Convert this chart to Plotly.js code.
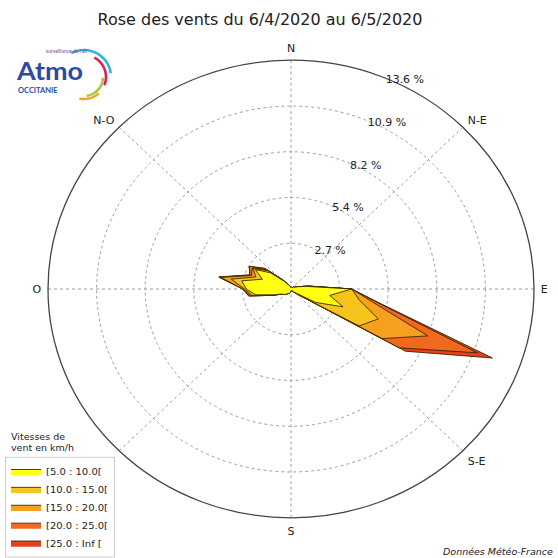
<!DOCTYPE html>
<html>
<head>
<meta charset="utf-8">
<script src="https://cdn.plot.ly/plotly-3.0.1.min.js"></script>
<style>
  html, body { margin: 0; padding: 0; overflow: hidden; background: #fff; }
  #chart { width: 558px; height: 593px; transform: scaleY(0.94118); transform-origin: 0 0; }
</style>
</head>
<body>
<div id="chart"></div>
<script>
// ---- data (percent of time, per direction sector of 10 degrees) ----
const directions = [0,10,20,30,40,50,60,70,80,90,100,110,120,130,140,150,160,170,
                    180,190,200,210,220,230,240,250,260,270,280,290,300,310,320,330,340,350];
const bin5_10   = [0.1,0.1,0.1,0.1,0.1,0.2,0.2,0.4,0.9,3.4,2.2,3.1,1.6,0.4,0.2,0.1,0.1,0.1,
                   0.1,0.2,0.3,0.3,0.4,0.5,0.6,1.0,2.0,2.5,2.8,1.7,2.3,1.5,0.6,0.3,0.2,0.1];
const bin10_15  = [0,0,0,0,0,0,0,0,0.1,0,1.7,2.1,2.8,0.1,0,0,0,0,
                   0,0,0,0,0,0,0,0.1,0.2,0.1,0.6,0.4,0.15,0.2,0.1,0,0,0];
const bin15_20  = [0,0,0,0,0,0,0,0,0,0,0.8,2.95,1.5,0,0,0,0,0,
                   0,0,0,0,0,0,0,0,0.1,0.1,0.6,0.25,0.05,0.1,0,0,0,0];
const bin20_25  = [0,0,0,0,0,0,0,0,0,0,0.35,2.95,1.1,0,0,0,0,0,
                   0,0,0,0,0,0,0,0,0.1,0,0.1,0.1,0.2,0.1,0,0,0,0];
const bin25_inf = [0,0,0,0,0,0,0,0,0,0,0.1,0.9,0.4,0,0,0,0,0,
                   0,0,0,0,0,0,0,0,0,0,0,0,0,0,0,0,0,0];
const binLabels = ['[5.0 : 10.0[', '[10.0 : 15.0[', '[15.0 : 20.0[', '[20.0 : 25.0[', '[25.0 : Inf ['];
const binColors = ['#ffff14', '#f6c41a', '#f5a01e', '#f06a1e', '#e6401c'];
const radialTicks = [2.72, 5.44, 8.16, 10.88, 13.6];
const radialTickText = ['2.7 %', '5.4 %', '8.2 %', '10.9 %', '13.6 %'];
const compassVals = [0,45,90,135,180,225,270,315];
const compassText = ['N','N-E','E','S-E','S','S-O','O','N-O'];
const rMax = 13.6;

// ---- geometry helpers (final pixels -> paper coords, page squeezed vertically) ----
const S = 224/238, W = 558, H = 593;
const PX = x => x / W;
const PY = y => 1 - (y / S) / H;

// cumulative layers
const bins = [bin5_10, bin10_15, bin15_20, bin20_25, bin25_inf];
const cum = [];
let acc = directions.map(() => 0);
bins.forEach(b => { acc = acc.map((v, i) => v + b[i]); cum.push(acc.slice()); });

const traces = [];
for (let k = bins.length - 1; k >= 0; k--) {
  traces.push({
    type: 'scatterpolar', mode: 'lines', fill: 'toself',
    r: cum[k].concat([cum[k][0]]),
    theta: directions.concat([directions[0]]),
    fillcolor: binColors[k],
    line: {color: '#3a2200', width: 0.9},
    name: binLabels[k], hoverinfo: 'skip'
  });
}

// logo arcs
function arc(cx, cy, r, a0, a1, color) {
  let d = '';
  const n = 24;
  for (let i = 0; i <= n; i++) {
    const a = (a0 + (a1 - a0) * i / n) * Math.PI / 180;
    const x = cx + r * Math.cos(a), y = cy + r * Math.sin(a);
    d += (i ? ' L ' : 'M ') + PX(x).toFixed(5) + ' ' + PY(y).toFixed(5);
  }
  return {type: 'path', xref: 'paper', yref: 'paper', path: d, line: {color: color, width: 2.6}};
}

const font = 'DejaVu Sans, Verdana, sans-serif';
const layout = {
  width: W, height: H,
  margin: {l: 0, r: 0, t: 0, b: 0},
  paper_bgcolor: '#fff',
  showlegend: true,
  title: {text: 'Rose des vents du 6/4/2020 au 6/5/2020', xref: 'paper', yref: 'paper',
          x: PX(260), xanchor: 'center', y: PY(20), yanchor: 'middle',
          font: {family: font, size: 16, color: '#222'}},
  polar: {
    domain: {x: [PX(48), PX(534)], y: [PY(518), PY(60)]},
    bgcolor: '#fff',
    angularaxis: {
      rotation: 90, direction: 'clockwise',
      tickmode: 'array', tickvals: compassVals, ticktext: compassText,
      ticks: 'outside', ticklen: 4, tickcolor: 'rgba(0,0,0,0)',
      showline: true, linecolor: '#444', linewidth: 1.3,
      showgrid: true, gridcolor: '#9a9a9a', griddash: 'dot', gridwidth: 1,
      tickfont: {family: font, size: 11, color: '#222'}
    },
    radialaxis: {
      range: [0, rMax], angle: 68.5, side: 'clockwise', tickangle: 68.5,
      tickmode: 'array', tickvals: radialTicks, ticktext: radialTickText,
      ticks: '', showline: false,
      showgrid: true, gridcolor: '#9a9a9a', griddash: 'dot', gridwidth: 1,
      tickfont: {family: font, size: 11, color: '#222'}
    }
  },
  legend: {
    x: PX(5), y: PY(557.5), xanchor: 'left', yanchor: 'bottom',
    bordercolor: '#cccccc', borderwidth: 1, bgcolor: '#fff',
    traceorder: 'reversed', itemwidth: 30,
    font: {family: font, size: 10, color: '#222'}
  },
  annotations: [
    {text: 'Vitesses de<br>vent en km/h', xref: 'paper', yref: 'paper', x: PX(9), y: PY(442),
     xanchor: 'left', yanchor: 'middle', align: 'left', showarrow: false,
     font: {family: font, size: 9.5, color: '#222'}},
    {text: '<i>Données Météo-France</i>', xref: 'paper', yref: 'paper', x: PX(555), y: PY(552),
     xanchor: 'right', yanchor: 'middle', showarrow: false,
     font: {family: font, size: 9.5, color: '#222'}},
    {text: '<b>Atmo</b>', xref: 'paper', yref: 'paper', x: PX(14), y: PY(70.5),
     xanchor: 'left', yanchor: 'middle', showarrow: false,
     font: {family: 'Lato, Open Sans, sans-serif', size: 27, color: '#2c4a9e'}},
    {text: '<b>OCCITANIE</b>', xref: 'paper', yref: 'paper', x: PX(16), y: PY(91),
     xanchor: 'left', yanchor: 'middle', showarrow: false,
     font: {family: 'Lato, Open Sans, sans-serif', size: 7.5, color: '#2c4a9e'}},
    {text: 'surveillance de l\'air', xref: 'paper', yref: 'paper', x: PX(44), y: PY(51),
     xanchor: 'left', yanchor: 'middle', showarrow: false,
     font: {family: 'Lato, Open Sans, sans-serif', size: 5, color: '#6a4a9a'}}
  ],
  shapes: [
    arc(84, 77, 27, -118, -8, '#2ab4e6'),
    arc(84, 77, 22, -62, 22, '#e2204a'),
    arc(84, 77, 19, 2, 82, '#a6c83a'),
    arc(84, 77, 22, 48, 102, '#f4a324')
  ]
};

Plotly.newPlot('chart', traces, layout, {staticPlot: true, displayModeBar: false});
</script>
</body>
</html>
